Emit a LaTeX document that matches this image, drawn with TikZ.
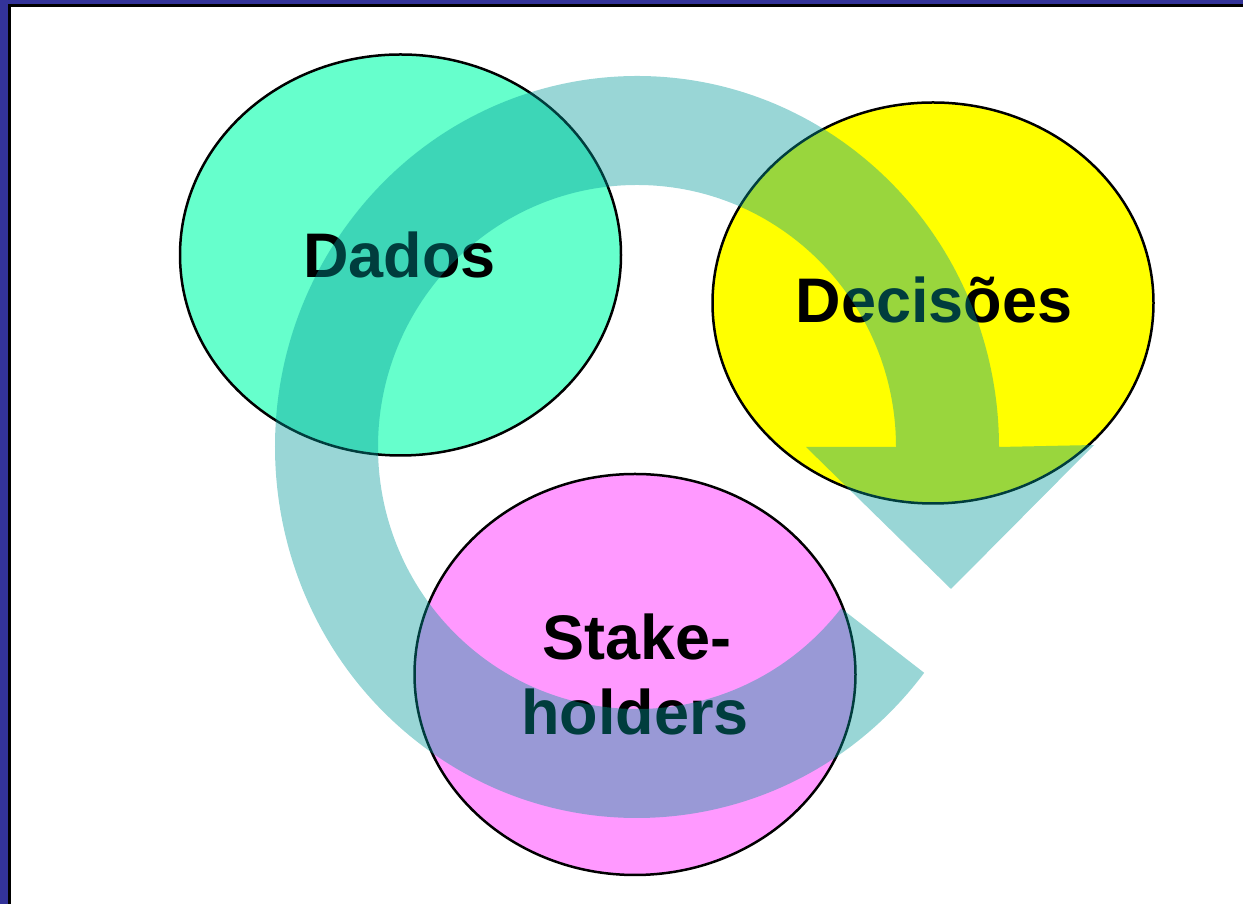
\documentclass[tikz,border=0pt]{standalone}
\usepackage{fontspec}
\setmainfont{Liberation Sans}
\usetikzlibrary{shapes.geometric,calc}
\definecolor{frameblue}{HTML}{333399}
\definecolor{dadosfill}{HTML}{66FFCC}
\definecolor{decfill}{HTML}{FFFF00}
\definecolor{stakefill}{HTML}{FF99FF}
\definecolor{bandteal}{HTML}{009999}
\tikzset{
  bubble/.style={ellipse, draw=black, line width=2.5pt, inner sep=0pt,
    minimum width=441pt, minimum height=401pt},
  lbl/.style={anchor=base, inner sep=0pt, font=\bfseries\fontsize{63}{75}\selectfont},
  band/.style={fill=bandteal, fill opacity=0.4}
}
\begin{document}
\begin{tikzpicture}[x=1pt,y=1pt]
\useasboundingbox (0,0) rectangle (1243,904);
% frame
\fill[frameblue] (0,0) rectangle (8,904);
\fill[frameblue] (0,900) rectangle (1243,904);
\fill[black] (8,0) rectangle (11,900);
\fill[black] (8,897) rectangle (1243,900);
% bubbles
\node[bubble, fill=dadosfill] (dados) at (400.5,649) {};
\node[bubble, fill=decfill] (decisoes) at (933,601) {};
\node[bubble, fill=stakefill] (stake) at (635,229.5) {};
% labels
\node[lbl] (tdados) at (399.5,626) {Dados};
\node[lbl] (tdec) at (934,581) {Decisões};
\node[lbl] (tstake1) at (637,244) {Stake-};
\node[lbl] (tstake2) at (635,169) {holders};
% curved arrow
\coordinate (C) at (637,457);
\coordinate (tipL) at (806,457);
\coordinate (tipR) at (1094,459);
\coordinate (tip) at (951,315);
\fill[band] ($(C)+(-37.5:362 and 371)$)
  arc[start angle=-37.5, end angle=-360, x radius=362, y radius=371]
  -- (tipR) -- (tip) -- (tipL)
  -- ($(C)+(0:259 and 262)$)
  arc[start angle=0, end angle=322, x radius=259, y radius=262]
  -- cycle;
\end{tikzpicture}
\end{document}
